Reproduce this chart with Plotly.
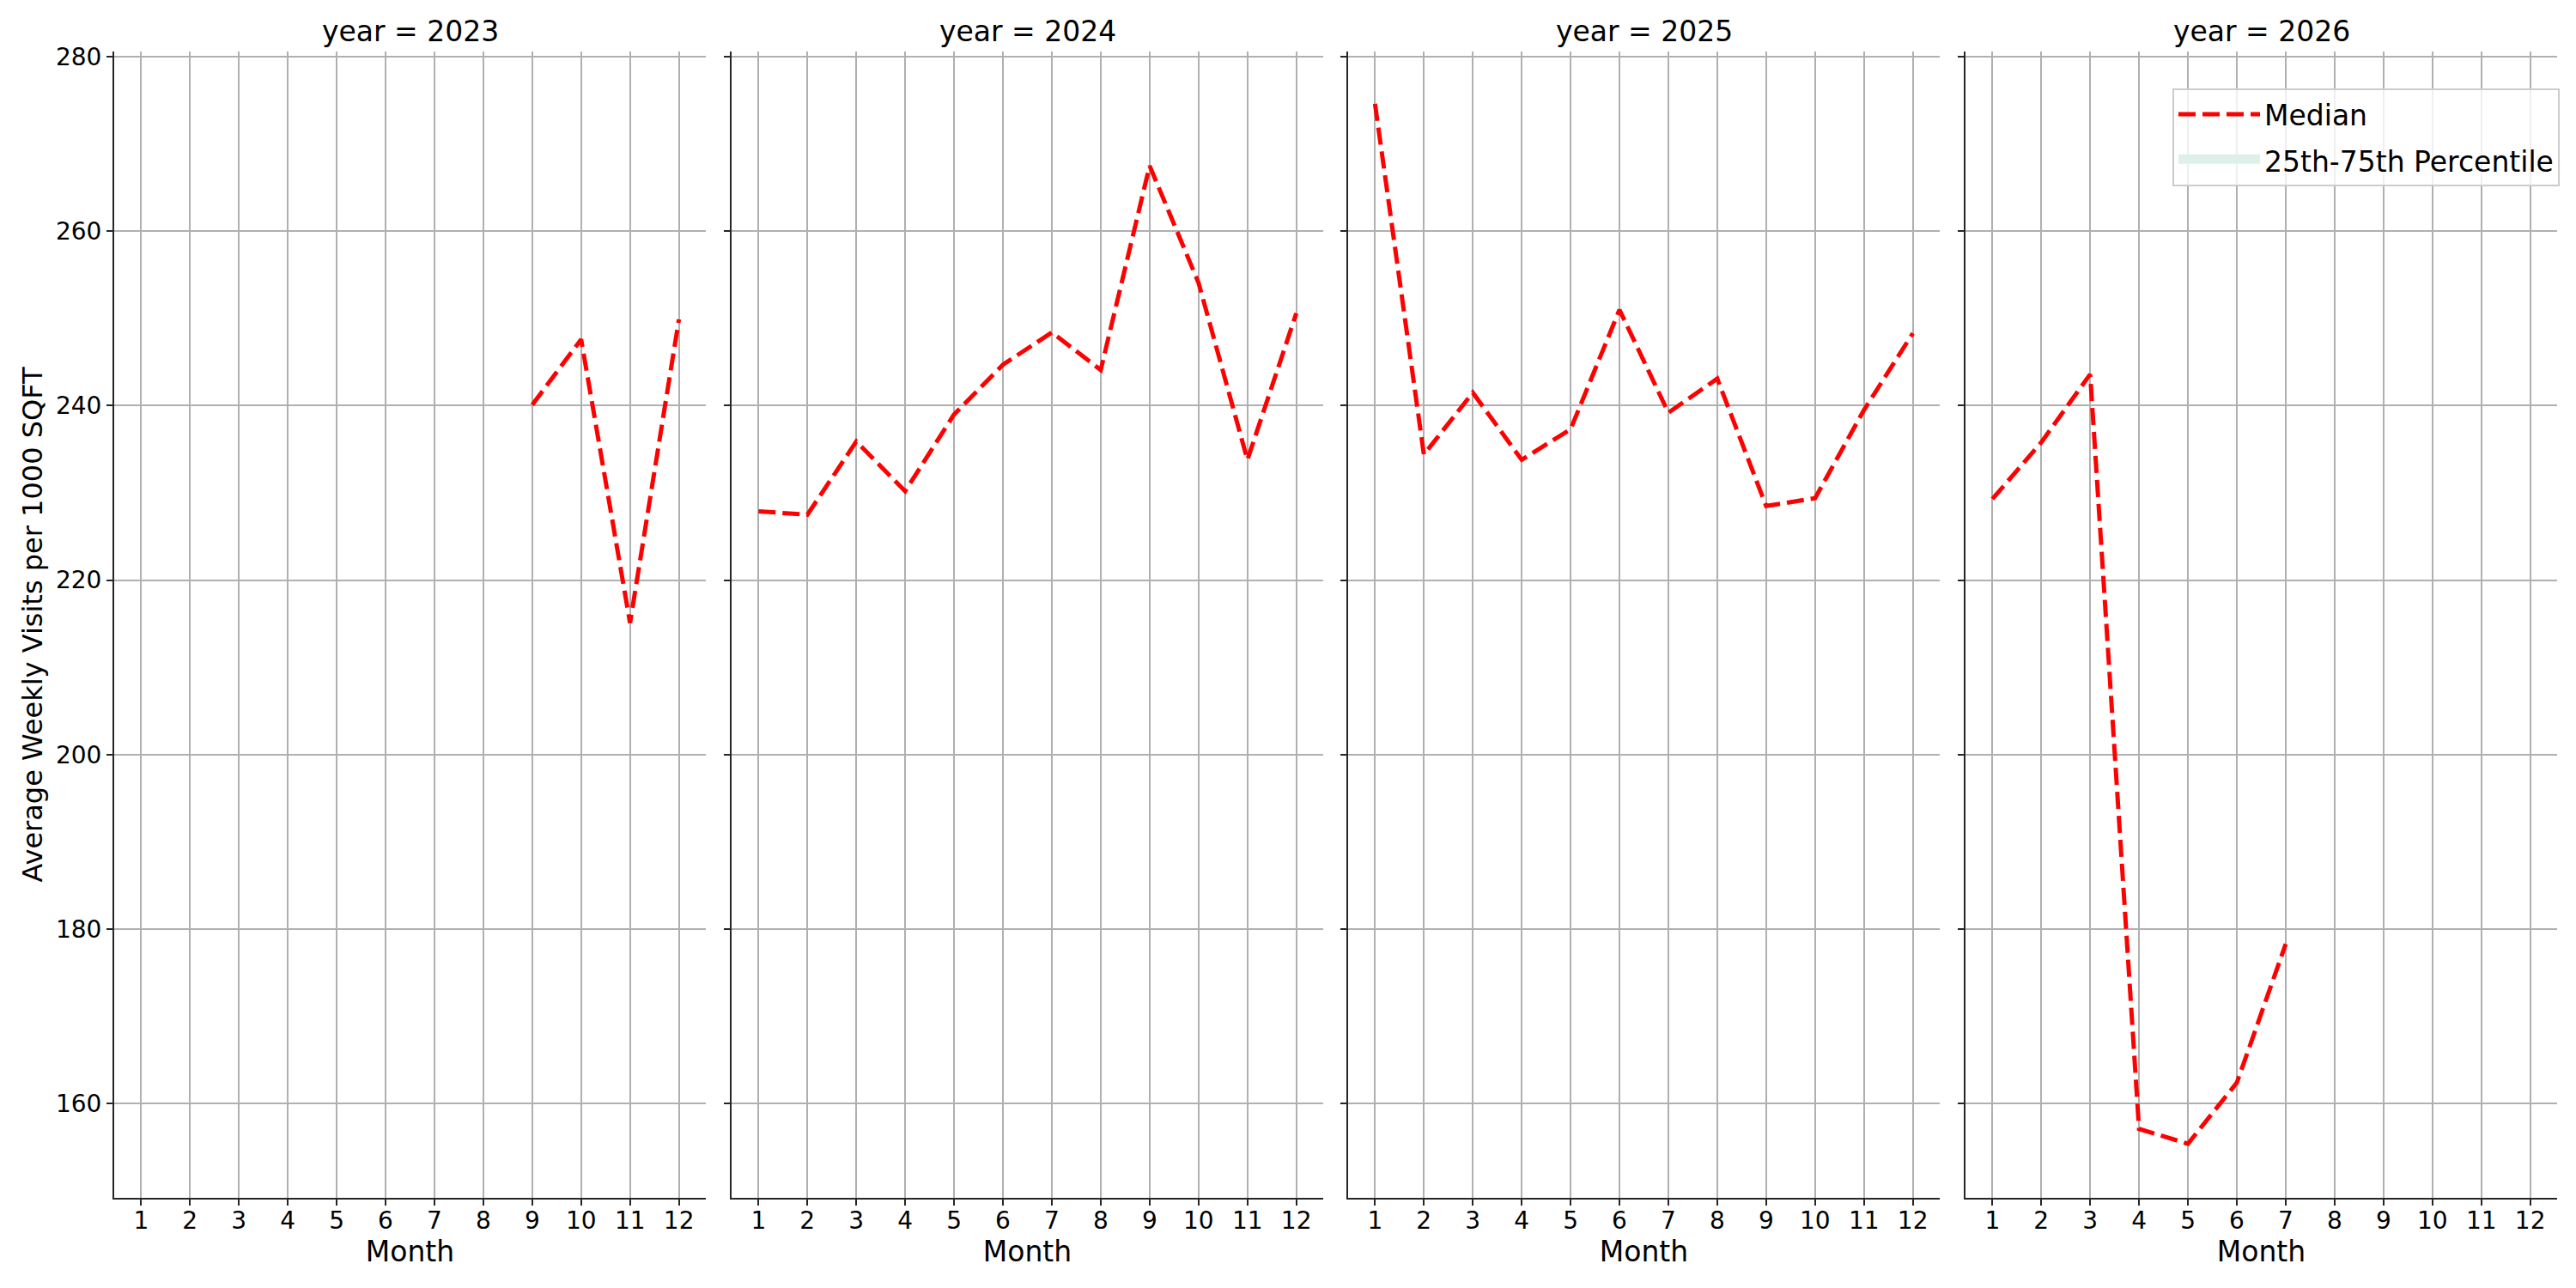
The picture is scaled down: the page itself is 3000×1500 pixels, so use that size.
import plotly.graph_objects as go
from plotly.subplots import make_subplots

# values (median weekly visits per 1000 sqft)
years = [2023, 2024, 2025, 2026]
month_ticks = [1, 2, 3, 4, 5, 6, 7, 8, 9, 10, 11, 12]
y_ticks = [160, 180, 200, 220, 240, 260, 280]

months_2023 = [9, 10, 11, 12]
median_2023 = [240.1, 247.6, 215.1, 249.9]

months_2024 = [1, 2, 3, 4, 5, 6, 7, 8, 9, 10, 11, 12]
median_2024 = [227.9, 227.5, 235.9, 230.2, 239.0, 244.7, 248.4, 244.1, 267.5, 254.1, 233.8, 250.6]

months_2025 = [1, 2, 3, 4, 5, 6, 7, 8, 9, 10, 11, 12]
median_2025 = [274.6, 234.4, 241.5, 233.8, 237.3, 251.0, 239.2, 243.1, 228.5, 229.4, 239.5, 248.3]

months_2026 = [1, 2, 3, 4, 5, 6, 7]
median_2026 = [229.3, 235.8, 243.6, 157.1, 155.4, 162.4, 178.3]

# percentile band is empty in the reference (no visible band)
p25_2026 = [None, None, None, None, None, None, None]
p75_2026 = [None, None, None, None, None, None, None]

series = {
    2023: (months_2023, median_2023),
    2024: (months_2024, median_2024),
    2025: (months_2025, median_2025),
    2026: (months_2026, median_2026),
}

W, H = 3000, 1500
FONT = "DejaVu Sans"
GRID = "#b0b0b0"
SPINE = "#262626"
BAND = "rgba(222,240,234,1)"

fig = make_subplots(rows=1, cols=4, shared_yaxes=True)

for i, yr in enumerate(years):
    x, y = series[yr]
    fig.add_trace(go.Scatter(
        x=x, y=y, mode="lines", name="Median", legendgroup="median",
        line=dict(color="red", width=5, dash="20px,8px"),
        showlegend=(yr == 2026),
    ), row=1, col=i + 1)

band_x = months_2026 + months_2026[::-1]
band_y = p75_2026 + p25_2026[::-1]
fig.add_trace(go.Scatter(
    x=band_x, y=band_y, mode="lines", name="25th-75th Percentile",
    legendgroup="band", fill="toself", fillcolor=BAND,
    line=dict(width=10, color=BAND),
), row=1, col=4)

# panel positions in the 3000x1500 frame
left = [133, 852, 1570, 2289]
pw = 689
top_px, bottom_px = 60, 1395

for i, yr in enumerate(years):
    n = "" if i == 0 else str(i + 1)
    fig.layout["xaxis" + n].update(
        domain=[left[i] / W, (left[i] + pw) / W],
        range=[0.45, 12.55], tickvals=month_ticks,
        showgrid=True, gridcolor=GRID, gridwidth=1.7,
        showline=True, linecolor=SPINE, linewidth=2,
        ticks="outside", ticklen=7, tickwidth=2, tickcolor=SPINE,
        tickfont=dict(size=28, color="black", family=FONT),
        ticklabelstandoff=-7,
        title=dict(text="Month", font=dict(size=33, color="black", family=FONT), standoff=9),
        zeroline=False, automargin=False,
    )
    fig.layout["yaxis" + n].update(
        domain=[1 - bottom_px / H, 1 - top_px / H],
        range=[149.2, 280.6], tickvals=y_ticks,
        showgrid=True, gridcolor=GRID, gridwidth=1.7,
        showline=True, linecolor=SPINE, linewidth=2,
        ticks="outside", ticklen=7, tickwidth=2, tickcolor=SPINE,
        tickfont=dict(size=28, color="black", family=FONT),
        showticklabels=(i == 0),
        zeroline=False, automargin=False,
    )
    fig.add_annotation(
        text=f"year = {yr}", xref="paper", yref="paper",
        x=(left[i] + pw / 2) / W, y=1 - 36 / H,
        xanchor="center", yanchor="middle", showarrow=False,
        font=dict(size=33, color="black", family=FONT),
    )

fig.layout.yaxis.title = dict(
    text="Average Weekly Visits per 1000 SQFT",
    font=dict(size=32, color="black", family=FONT), standoff=6,
)

fig.update_layout(
    width=W, height=H,
    margin=dict(l=0, r=0, t=0, b=0),
    plot_bgcolor="white", paper_bgcolor="white",
    font=dict(family=FONT, color="black"),
    legend=dict(
        x=2981 / W, y=1 - 103 / H, xanchor="right", yanchor="top",
        bgcolor="rgba(255,255,255,0.8)", bordercolor="#cccccc", borderwidth=2,
        font=dict(size=33, color="black", family=FONT),
        itemwidth=95, tracegroupgap=8,
    ),
)

fig.write_html(
    "out.html",
    config={"displayModeBar": False},
    post_script="document.body.style.margin='0';",
)
